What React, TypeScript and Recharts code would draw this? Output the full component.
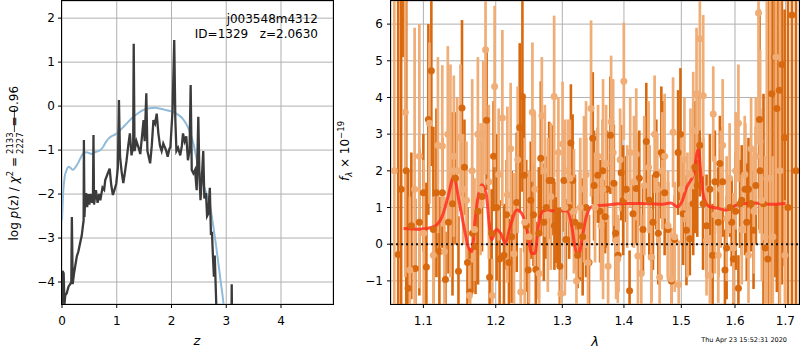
import React from "react";
import {
  LineChart,
  ComposedChart,
  Line,
  Scatter,
  ErrorBar,
  XAxis,
  YAxis,
  CartesianGrid,
  ReferenceLine,
} from "recharts";

const FONT = "'DejaVu Sans', sans-serif";
const GRID = "#b0b0b0";
const CHI2_LINE = "#3b3b3b";
const TEMPLATE_LINE = "#8fbad9";
const ORANGE_DARK = "#d9690f";
const ORANGE_LIGHT = "#f0ad76";
const MODEL_RED = "#ff2e1f";

// ---- left panel: log p(z) ----
const zTicks = [0, 1, 2, 3, 4];
const logpTicks = [-4, -3, -2, -1, 0, 1, 2];

// smooth template-fit curve [z, log p]
const templateCurve: [number, number][] = [
  [0, -2.6], [0.02, -2.0], [0.05, -1.6], [0.085, -1.45], [0.12, -1.38], [0.15, -1.4],
  [0.2, -1.45], [0.25, -1.38], [0.3, -1.28], [0.35, -1.15], [0.4, -1.06], [0.45, -1.05],
  [0.5, -1.07], [0.55, -1.09], [0.6, -1.05], [0.65, -1.03], [0.7, -1.0], [0.75, -0.93],
  [0.8, -0.82], [0.85, -0.74], [0.9, -0.69], [0.95, -0.66], [1.0, -0.62], [1.1, -0.5],
  [1.2, -0.37], [1.3, -0.25], [1.4, -0.15], [1.5, -0.08], [1.6, -0.05], [1.7, -0.04],
  [1.8, -0.06], [1.9, -0.09], [2.0, -0.12], [2.1, -0.18], [2.2, -0.28], [2.3, -0.48],
  [2.4, -0.85], [2.5, -1.45], [2.6, -1.85], [2.7, -2.25], [2.8, -3.05], [2.9, -4.0],
  [2.95, -4.5], [3.0, -5.3],
];

// noisy chi2 curve [z, log p]
const chi2Curve: [number, number][] = [
  [0.0, -4.6], [0.01, -3.75], [0.03, -3.8], [0.045, -4.5], [0.06, -4.3], [0.085, -4.26],
  [0.12, -4.1], [0.15, -4.05], [0.17, -4.0], [0.18, -2.52], [0.195, -4.05], [0.22, -3.8],
  [0.27, -3.42], [0.3, -3.3], [0.33, -3.12], [0.36, -2.95], [0.38, -2.74], [0.395, -2.6],
  [0.4, -0.77], [0.41, -2.52], [0.42, -2.2], [0.44, -1.98], [0.46, -2.3], [0.48, -2.0],
  [0.5, -2.24], [0.52, -2.0], [0.55, -2.2], [0.565, -2.1], [0.575, -0.66], [0.585, -2.24],
  [0.62, -1.91], [0.65, -2.2], [0.68, -2.0], [0.7, -2.14], [0.74, -1.85], [0.77, -1.9],
  [0.79, -1.68], [0.83, -1.55], [0.87, -1.42], [0.9, -1.8], [0.93, -2.02], [0.96, -1.9],
  [0.99, -1.77], [1.02, -1.4], [1.04, 0.14], [1.06, -1.15], [1.09, -1.5], [1.12, -1.75],
  [1.15, -1.5], [1.18, -1.23], [1.21, -0.9], [1.24, -0.62], [1.27, -1.12], [1.3, -0.9],
  [1.31, 1.42], [1.325, -1.02], [1.36, -0.8], [1.4, -0.95], [1.43, -1.09], [1.46, -0.7],
  [1.49, -0.32], [1.51, -0.8], [1.54, 0.29], [1.56, -1.02], [1.61, -1.3], [1.64, -0.9],
  [1.67, -0.32], [1.7, -0.4], [1.73, -0.17], [1.76, -0.62], [1.79, -0.9], [1.82, -1.02],
  [1.85, -0.85], [1.87, -0.91], [1.9, -1.0], [1.93, -1.15], [1.96, -0.98], [1.98, -0.93],
  [2.02, -0.09], [2.05, 1.5], [2.07, -0.3], [2.09, -1.02], [2.12, -0.95], [2.16, -1.12],
  [2.19, -0.9], [2.21, -0.62], [2.24, -0.8], [2.27, -0.69], [2.3, -1.23], [2.33, -1.0],
  [2.35, 0.48], [2.37, -1.45], [2.4, -1.53], [2.43, -1.45], [2.46, -1.91], [2.49, -0.24],
  [2.51, -1.6], [2.53, -2.14], [2.56, -1.5], [2.58, -1.02], [2.6, -2.1], [2.63, -1.98],
  [2.65, -2.5], [2.67, -2.45], [2.7, -1.86], [2.72, -2.9], [2.74, -2.89], [2.76, -3.5],
  [2.775, -3.88], [2.79, -3.4], [2.82, -4.6], [2.9, -6], [3.05, -6.5], [3.095, -5],
  [3.1, -4.05], [3.11, -5.5], [3.2, -7],
];

// ---- right panel: spectrum ----
const lamTicks = [1.1, 1.2, 1.3, 1.4, 1.5, 1.6, 1.7];
const fluxTicks = [-1, 0, 1, 2, 3, 4, 5, 6];
const LAM_DOMAIN: [number, number] = [1.058, 1.728];
const FLUX_DOMAIN: [number, number] = [-1.63, 6.63];

// [lambda, flux, err]
const specA: [number, number, number][] = [
  [1.0672, -0.28, 10], [1.071, 1.5, 9], [1.0737, 8.5, 3.4], [1.0776, 2.0, 6], [1.08, -1.2, 3.2],
  [1.0842, 0.5, 2.0], [1.0894, -0.66, 1.9], [1.0947, 0.6, 2.0], [1.1, 1.4, 1.6], [1.104, -0.62, 2.3],
  [1.1066, 3.4, 2.6], [1.1106, 4.73, 2.6], [1.1133, 0.4, 2.8], [1.1174, 1.4, 2.3], [1.1214, -0.2, 1.5],
  [1.1255, 1.4, 1.5], [1.1296, -0.96, 1.3], [1.1337, 0.6, 1.4], [1.1392, 1.1, 2.5], [1.1433, 1.8, 1.8],
  [1.1474, -0.74, 1.5], [1.1523, 3.71, 2.4], [1.1557, 2.1, 1.3], [1.1599, -0.5, 1.5], [1.1634, -1.3, 1.2],
  [1.1669, 0.3, 1.6], [1.1712, -0.06, 1.3], [1.1747, 0.9, 2.0], [1.1804, 1.3, 1.5], [1.1869, 3.38, 1.9],
  [1.1912, -0.9, 1.5], [1.1941, 0.3, 1.2], [1.1969, 2.4, 1.5], [1.2013, 1.0, 2.0], [1.2056, -0.4, 1.6],
  [1.2119, -0.3, 1.4], [1.2159, 0.8, 1.5], [1.2192, -0.5, 1.2], [1.2232, 0.2, 1.8], [1.2306, 1.14, 1.9],
  [1.2351, 3.18, 2.3], [1.2391, 4.03, 2.6], [1.2418, 1.88, 2.1], [1.2448, 0.5, 1.8], [1.2478, -0.7, 1.2],
  [1.2516, 1.2, 1.6], [1.2557, 0.8, 1.4], [1.2592, -0.69, 1.3], [1.2638, 0.3, 1.8], [1.2668, 2.34, 2.1],
  [1.2714, 0.6, 1.6], [1.2753, 1.0, 1.4], [1.2796, 1.74, 1.6], [1.2838, 1.74, 1.5], [1.2877, 0.5, 1.2],
  [1.2908, 0.38, 0.9], [1.2931, 0.9, 1.5], [1.2962, -0.6, 1.6], [1.3025, 1.74, 1.4], [1.3056, 0.13, 1.1],
  [1.3108, 1.0, 1.4], [1.3135, 2.76, 1.6], [1.3162, 1.74, 1.8], [1.3199, 0.6, 1.3], [1.3242, -0.3, 0.9],
  [1.3279, 0.5, 1.5], [1.3322, 0.2, 1.6], [1.3376, 1.0, 1.9], [1.3424, -0.5, 1.3], [1.3485, 2.89, 1.8],
  [1.3506, 1.6, 1.5], [1.3566, 1.88, 1.3], [1.3604, 0.9, 1.4], [1.3648, 2.0, 1.4], [1.3686, 0.75, 1.0],
  [1.3719, 1.5, 1.6], [1.3774, 2.97, 1.6], [1.3831, 1.66, 1.6], [1.3861, 0.3, 1.3], [1.3903, -0.3, 1.0],
  [1.3953, 1.95, 1.3], [1.3987, 1.2, 1.5], [1.4038, 1.5, 0.9], [1.4095, -1.27, 1.1], [1.4153, 0.83, 0.9],
  [1.4209, 1.52, 1.5], [1.4261, 1.8, 1.3], [1.4324, 0.4, 1.2], [1.4381, 2.8, 1.6], [1.4433, 1.2, 1.5],
  [1.4468, -0.35, 1.2], [1.4497, 0.6, 1.3], [1.4556, 1.9, 1.5], [1.4591, 0.3, 1.4], [1.4644, 2.5, 1.8],
  [1.4673, 2.4, 1.5], [1.4702, 1.4, 1.7], [1.4762, 0.4, 1.3], [1.4822, -1.0, 1.2], [1.4881, 0.13, 1.2],
  [1.4942, 2.5, 1.7], [1.4984, 3.0, 1.8], [1.5033, 0.83, 1.4], [1.5093, 0.38, 1.5], [1.5154, 0.15, 1.0],
  [1.5216, 1.1, 1.4], [1.5246, 2.1, 1.8], [1.5291, 1.6, 1.4], [1.5335, 2.7, 1.4], [1.5397, 1.1, 1.8],
  [1.5462, 0.5, 1.4], [1.5524, 1.5, 1.5], [1.5575, -0.3, 1.4], [1.5618, 1.7, 1.4], [1.5682, 0.6, 1.5],
  [1.5712, 2.2, 1.3], [1.5764, 1.7, 1.5], [1.5808, -0.7, 1.1], [1.584, -0.1, 1.4], [1.5903, 1.0, 0.8],
  [1.5936, 0.6, 1.2], [1.5969, -0.4, 1.4], [1.6013, 0.9, 1.6], [1.6066, -1.2, 0.9], [1.6098, 1.1, 1.2],
  [1.613, 1.2, 1.5], [1.6195, 1.5, 1.8], [1.6228, 0.6, 1.6], [1.6262, 1.5, 1.4], [1.6313, 1.1, 1.3],
  [1.6361, 0.38, 1.6], [1.6406, 1.6, 1.6], [1.6478, 3.4, 3.0], [1.6491, 2.0, 1.7], [1.6558, 1.1, 3.0],
  [1.6591, -0.1, 2.5], [1.6644, -0.4, 8], [1.6725, 4.1, 7], [1.678, 5.1, 6], [1.6826, 3.7, 5],
  [1.6874, 4.2, 8], [1.6928, 4.9, 6], [1.6984, 2.9, 3.5], [1.7052, 1.0, 9], [1.7134, 6.25, 8],
  [1.7217, 2.0, 10],
];

const specB: [number, number, number][] = [
  [1.0622, 2.0, 5], [1.0763, 3.6, 4.5], [1.0822, -0.7, 2.0], [1.0885, 1.5, 4.4], [1.0947, 2.4, 3.6],
  [1.1004, 0.3, 2.0], [1.108, 3.3, 2.2], [1.1133, -0.3, 1.6], [1.1194, 2.7, 2.4], [1.1253, 2.68, 2.2],
  [1.1282, -0.2, 1.5], [1.1328, 3.0, 2.4], [1.1364, 2.0, 2.9], [1.141, 2.4, 2.2], [1.1456, 2.0, 2.0],
  [1.1502, 2.9, 2.0], [1.1539, 1.5, 1.5], [1.1585, 1.2, 1.6], [1.1627, -1.4, 1.0], [1.1665, 2.0, 2.5],
  [1.1698, 0.4, 1.4], [1.1745, 3.0, 2.1], [1.1783, 1.5, 1.8], [1.1821, 3.0, 2.0], [1.1854, 5.3, 3.4],
  [1.1901, 1.7, 2.1], [1.1951, -1.4, 1.0], [1.1984, 4.3, 2.2], [1.2042, 1.9, 1.8], [1.2096, 3.44, 2.4],
  [1.2169, 1.35, 2.4], [1.2217, 2.6, 1.8], [1.2266, -0.26, 2.2], [1.2321, 2.3, 2.0], [1.2366, -1.3, 1.2],
  [1.2426, 0.6, 2.3], [1.249, 0.2, 1.8], [1.2541, 3.6, 1.9], [1.2577, 1.5, 2.1], [1.2643, -0.8, 1.5],
  [1.2684, 3.5, 1.6], [1.273, 2.0, 1.8], [1.2776, 0.8, 2.1], [1.2822, 1.3, 2.0], [1.2873, 4.03, 2.2],
  [1.2939, 2.5, 1.5], [1.2978, -1.35, 0.8], [1.3004, 2.73, 1.7], [1.304, 1.0, 2.4], [1.3087, 2.0, 1.4],
  [1.3119, 1.8, 1.6], [1.3183, 0.9, 1.7], [1.3223, -1.0, 1.4], [1.3284, 1.0, 1.9], [1.3344, 1.5, 2.0],
  [1.3376, 1.9, 2.0], [1.3408, -0.5, 1.4], [1.3457, 3.7, 2.4], [1.3522, 1.0, 1.5], [1.3571, 2.4, 1.4],
  [1.362, 0.5, 1.5], [1.3653, 1.5, 3.0], [1.3703, 2.2, 1.6], [1.3736, -0.6, 1.4], [1.3786, 3.34, 1.8],
  [1.382, 2.5, 2.0], [1.3869, 0.1, 1.6], [1.3897, -0.4, 1.2], [1.3936, 2.3, 1.4], [1.3998, 4.44, 1.6],
  [1.4055, 1.3, 1.4], [1.4106, 2.5, 1.5], [1.4169, 1.7, 1.8], [1.4209, 2.45, 1.8], [1.4238, -0.32, 1.4],
  [1.4295, -0.8, 1.6], [1.4346, 1.6, 1.9], [1.4421, 2.1, 1.8], [1.4468, -0.35, 1.3], [1.4526, 3.0, 1.6],
  [1.4573, 1.5, 1.5], [1.4614, -0.9, 1.1], [1.4661, 2.0, 1.6], [1.4702, 2.4, 1.7], [1.4762, 0.5, 1.5],
  [1.4822, -0.95, 1.4], [1.4852, 3.05, 1.5], [1.4881, 0.2, 1.5], [1.4953, -1.1, 1.2], [1.5002, 1.5, 1.5],
  [1.5056, 2.3, 1.7], [1.5111, 0.8, 1.7], [1.5166, 1.9, 1.8], [1.5216, 3.1, 1.6], [1.5277, 4.1, 1.8],
  [1.5338, 5.6, 2.5], [1.54, 4.05, 2.2], [1.5462, 0.1, 1.5], [1.5524, -0.85, 1.1], [1.5587, 3.55, 1.3],
  [1.5618, 0.8, 1.6], [1.5682, -0.3, 1.3], [1.5726, 1.5, 1.6], [1.5764, 2.7, 1.8], [1.584, 0.7, 1.7],
  [1.5897, 1.8, 1.5], [1.5969, -0.1, 1.5], [1.6013, 2.0, 1.6], [1.6066, 3.3, 1.6], [1.613, 0.4, 1.5],
  [1.6189, 1.9, 1.6], [1.6262, -0.3, 1.3], [1.6313, 2.6, 1.4], [1.6366, 0.9, 1.7], [1.6406, 2.4, 1.6],
  [1.6459, 6.3, 3.5], [1.6491, 2.8, 2.5], [1.6524, 1.2, 2.2], [1.6591, 0.2, 2.2], [1.6624, 1.8, 5],
  [1.6691, 1.8, 8], [1.6745, 0.2, 2.2], [1.6806, 5.1, 4], [1.6888, 2.0, 6], [1.699, -0.3, 1.5],
];

// smoothed model [lambda, flux]
const modelCurve: [number, number][] = [
  [1.074, 0.43], [1.096, 0.41], [1.114, 0.48], [1.125, 0.75], [1.133, 1.29], [1.141, 1.84],
  [1.148, 1.2], [1.155, 0.48], [1.161, -0.07], [1.166, -0.2], [1.171, 0.75], [1.18, 1.62],
  [1.186, 1.4], [1.192, 0.3], [1.194, 0.12], [1.201, 0.41], [1.207, 0.3], [1.214, 0.03],
  [1.221, 0.48], [1.231, 0.93], [1.238, 0.84], [1.246, 0.39], [1.253, -0.25], [1.258, -0.25],
  [1.263, 0.48], [1.271, 0.91], [1.286, 0.91], [1.307, 0.91], [1.315, 0.48], [1.32, -0.07],
  [1.325, -0.35], [1.331, 0.12], [1.338, 0.75], [1.347, 1.02], [1.372, 1.07], [1.4, 1.11],
  [1.428, 1.11], [1.463, 1.09], [1.481, 1.12], [1.493, 1.02], [1.501, 1.16], [1.51, 1.56],
  [1.522, 1.91], [1.531, 2.58], [1.536, 1.84], [1.541, 1.29], [1.55, 1.04], [1.57, 0.97],
  [1.584, 0.93], [1.603, 1.07], [1.636, 1.12], [1.677, 1.09], [1.7, 1.11],
];

const toZ = (rows: [number, number][]) => rows.map(([z, p]) => ({ z, p }));
const toSpec = (rows: [number, number, number][]) => rows.map(([lam, f, e]) => ({ lam, f, e }));
const modelPts = modelCurve.map(([lam, f]) => ({ lam, f }));

const minus = (v: number) => String(v).replace("-", "\u2212");

const tickStyle = { fill: "#000", fontSize: 12 };

const makeDot = (color: string) => (props: any) =>
  <circle cx={props.cx} cy={props.cy} r={3.5} fill={color} />;

function PzPanel() {
  return (
    <LineChart width={340} height={350} margin={{ top: 1, right: 7, bottom: 0, left: 0 }}>
      <CartesianGrid stroke={GRID} strokeWidth={1} />
      <XAxis
        type="number"
        dataKey="z"
        domain={[0, 4.95]}
        ticks={zTicks}
        allowDataOverflow
        axisLine={false}
        tickLine={{ stroke: "#000" }}
        tickSize={4}
        tickMargin={8}
        height={46}
        tick={tickStyle}
      />
      <YAxis
        type="number"
        dataKey="p"
        domain={[-4.5, 2.39]}
        ticks={logpTicks}
        allowDataOverflow
        axisLine={false}
        tickLine={{ stroke: "#000" }}
        tickSize={4}
        tickMargin={3}
        width={62}
        tick={tickStyle}
        tickFormatter={minus}
      />
      <Line
        data={toZ(templateCurve)}
        dataKey="p"
        stroke={TEMPLATE_LINE}
        strokeWidth={2}
        dot={false}
        type="monotone"
        isAnimationActive={false}
      />
      <Line
        data={toZ(chi2Curve)}
        dataKey="p"
        stroke={CHI2_LINE}
        strokeWidth={2.3}
        dot={false}
        type="linear"
        isAnimationActive={false}
      />
    </LineChart>
  );
}

// grid + axes only
function SpecAxes() {
  return (
    <ComposedChart width={460} height={350} margin={{ top: 1, right: 1, bottom: 0, left: 0 }}>
      <CartesianGrid stroke={GRID} strokeWidth={1} />
      <XAxis
        type="number"
        dataKey="lam"
        scale="log"
        domain={LAM_DOMAIN}
        ticks={lamTicks}
        allowDataOverflow
        axisLine={false}
        tickLine={{ stroke: "#000" }}
        tickSize={4}
        tickMargin={8}
        height={46}
        tick={tickStyle}
        tickFormatter={(v: number) => v.toFixed(1)}
      />
      <YAxis
        type="number"
        dataKey="f"
        domain={FLUX_DOMAIN}
        ticks={fluxTicks}
        allowDataOverflow
        axisLine={false}
        tickLine={{ stroke: "#000" }}
        tickSize={4}
        tickMargin={4}
        width={51}
        tick={tickStyle}
        tickFormatter={minus}
      />
      <Line data={modelPts} dataKey="f" stroke="none" dot={false} isAnimationActive={false} />
    </ComposedChart>
  );
}

// data marks, same plot box, clipped to it by the wrapper
function SpecData() {
  return (
    <ComposedChart width={460} height={350} margin={{ top: 1, right: 1, bottom: 46, left: 51 }}>
      <XAxis type="number" dataKey="lam" scale="log" domain={LAM_DOMAIN} allowDataOverflow hide />
      <YAxis type="number" dataKey="f" domain={FLUX_DOMAIN} allowDataOverflow hide />
      <Scatter data={toSpec(specA)} dataKey="f" shape={makeDot(ORANGE_DARK)} isAnimationActive={false}>
        <ErrorBar dataKey="e" direction="y" width={0} strokeWidth={2.6} stroke={ORANGE_DARK} />
      </Scatter>
      <Scatter
        data={toSpec(specB)}
        dataKey="f"
        shape={makeDot(ORANGE_LIGHT)}
        opacity={0.8}
        isAnimationActive={false}
      >
        <ErrorBar dataKey="e" direction="y" width={0} strokeWidth={2.7} stroke={ORANGE_LIGHT} />
      </Scatter>
      <ReferenceLine y={0} stroke="#111" strokeWidth={2} strokeDasharray="2 3" />
      <Line
        data={modelPts}
        dataKey="f"
        stroke={MODEL_RED}
        strokeOpacity={0.85}
        strokeWidth={3}
        dot={false}
        type="monotone"
        isAnimationActive={false}
      />
    </ComposedChart>
  );
}

export default function App() {
  return (
    <div
      style={{
        position: "absolute",
        left: 0,
        top: 0,
        width: 800,
        height: 350,
        background: "#fff",
        fontFamily: FONT,
      }}
    >
      <div style={{ position: "absolute", left: 0, top: 0 }}>
        <PzPanel />
      </div>
      <div style={{ position: "absolute", left: 340, top: 0 }}>
        <SpecAxes />
      </div>
      <div style={{ position: "absolute", left: 340, top: 0, clipPath: "inset(1px 1px 46px 51px)" }}>
        <SpecData />
      </div>
      {/* axes frames */}
      <div style={{ position: "absolute", left: 61, top: 0, width: 273, height: 305, border: "1px solid #000", boxSizing: "border-box" }} />
      <div style={{ position: "absolute", left: 390, top: 0, width: 410, height: 305, border: "1px solid #000", boxSizing: "border-box" }} />
      <svg
        width={800}
        height={350}
        style={{ position: "absolute", left: 0, top: 0, pointerEvents: "none", fontFamily: FONT }}
      >
        <g transform="translate(18,153) rotate(-90)" fill="#000">
          <text x={-87.5} y={0} fontSize={12} style={{ whiteSpace: "pre" }}>
            log <tspan fontStyle="italic">p</tspan>(z) / <tspan fontStyle="italic">χ</tspan>
            <tspan dy={-5} fontSize={8.5}>2</tspan>
            <tspan dy={5}> =</tspan>
            <tspan dx={3} dy={-5.5} fontSize={8.5}>2133</tspan>
            <tspan dx={-21.6} dy={10} fontSize={8.5}>2227</tspan>
            <tspan dx={2} dy={-4.5}> = 0.96</tspan>
          </text>
          <line x1={21} x2={44.5} y1={-3.6} y2={-3.6} stroke="#000" strokeWidth={0.8} />
        </g>
        <text x={318} y={23} textAnchor="end" fontSize={12}>j003548m4312</text>
        <text x={318} y={38} textAnchor="end" fontSize={12} style={{ whiteSpace: "pre" }}>
          ID=1329   z=2.0630
        </text>
        <text x={197} y={345} textAnchor="middle" fontSize={13} fontStyle="italic">z</text>
        <g transform="translate(349,151) rotate(-90)" fontSize={12} fill="#000">
          <text x={0} y={0} textAnchor="middle">
            <tspan fontStyle="italic">f</tspan>
            <tspan dy={3} fontSize={8.5} fontStyle="italic">λ</tspan>
            <tspan dy={-3}> × 10</tspan>
            <tspan dy={-5} fontSize={8.5}>−19</tspan>
          </text>
        </g>
        <text x={595} y={346} textAnchor="middle" fontSize={13} fontStyle="italic">λ</text>
        <text x={787} y={342} textAnchor="end" fontSize={6.5}>Thu Apr 23 15:52:31 2020</text>
      </svg>
    </div>
  );
}
